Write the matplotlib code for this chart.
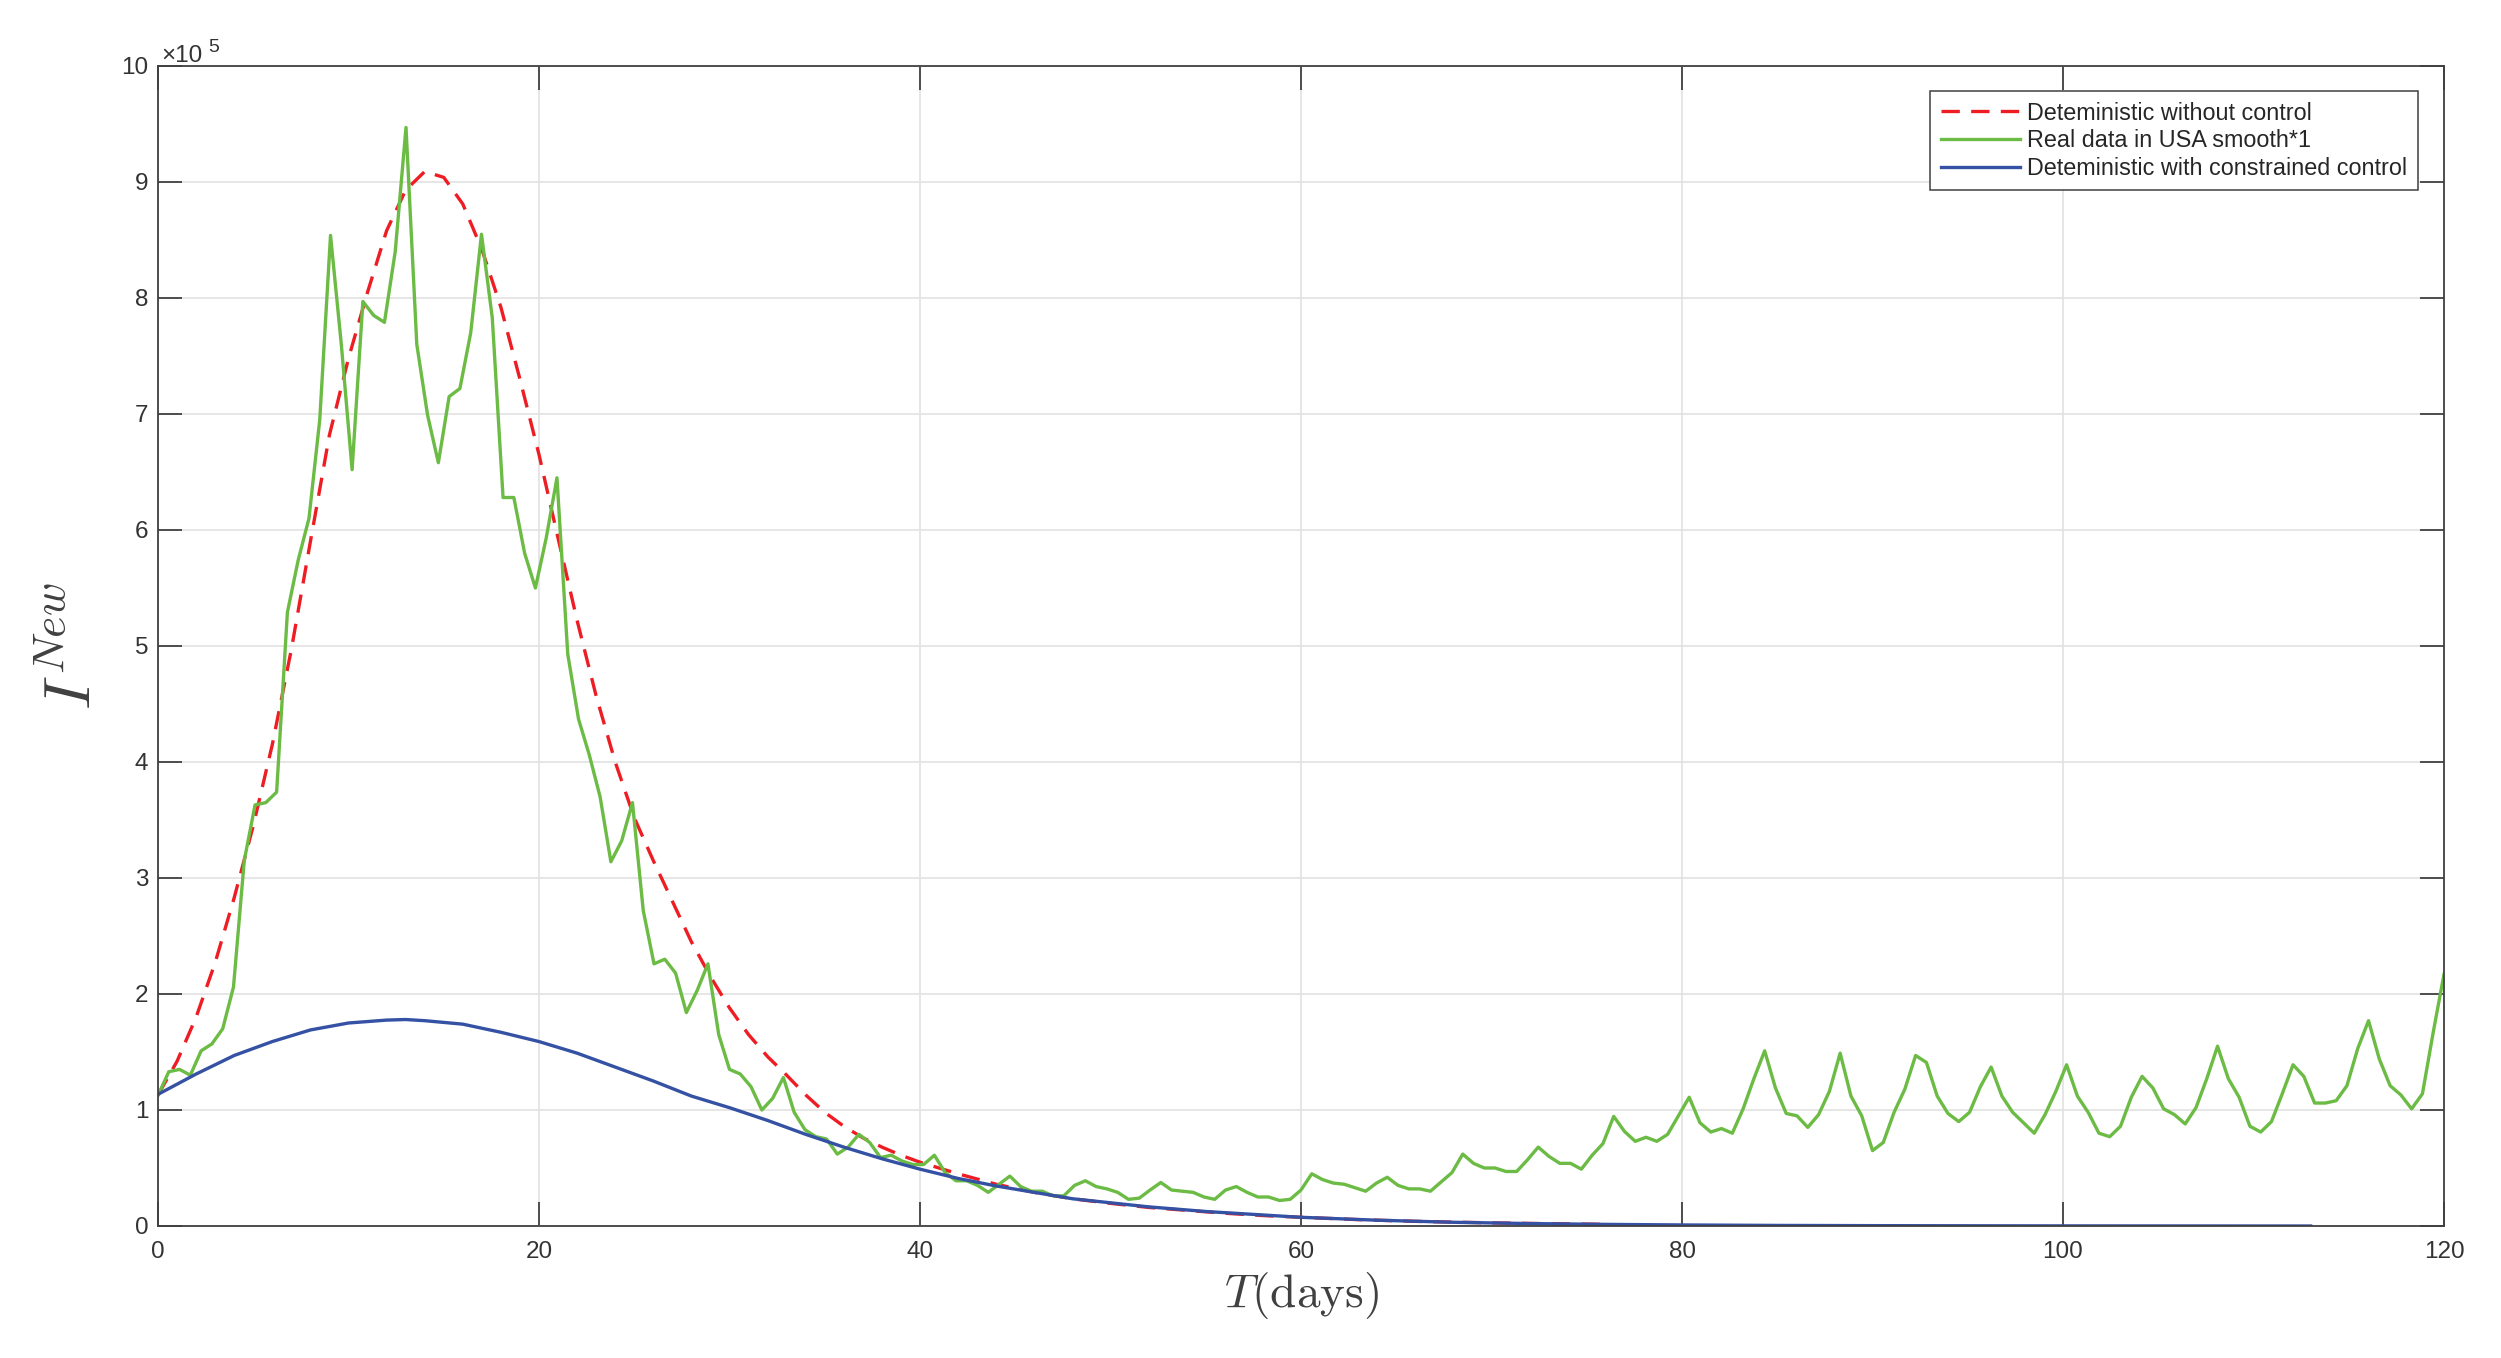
import numpy as np
import matplotlib
matplotlib.use("Agg")
import matplotlib.pyplot as plt

# values in units of 1e5
t_red = [0, 1, 2, 3, 4, 5, 6, 7, 8, 9, 10, 11, 12, 13, 14, 15, 16, 17, 18, 19,
         20, 21, 22, 23, 24, 25, 26, 27, 28, 29, 30, 31, 32, 33, 34, 35, 36, 37,
         38, 39, 40, 42, 44, 46, 48, 50, 52, 54, 56, 58, 60, 63, 66, 70, 73, 76]
i_red = [1.13, 1.42, 1.80, 2.27, 2.83, 3.45, 4.15, 4.97, 5.90, 6.82, 7.48, 8.05,
         8.58, 8.93, 9.09, 9.04, 8.81, 8.42, 7.92, 7.30, 6.65, 5.93, 5.22, 4.57,
         4.00, 3.52, 3.15, 2.80, 2.45, 2.15, 1.88, 1.65, 1.46, 1.30, 1.13, 0.98,
         0.86, 0.76, 0.68, 0.61, 0.55, 0.45, 0.36, 0.29, 0.235, 0.195, 0.16,
         0.135, 0.11, 0.09, 0.075, 0.055, 0.04, 0.027, 0.02, 0.014]

t_blue = [0, 2, 4, 6, 8, 10, 12, 13, 14, 16, 18, 20, 22, 24, 26, 28, 30, 32, 34,
          36, 38, 40, 42, 44, 46, 48, 50, 52, 55, 58, 60, 64, 68, 72, 76, 80, 85,
          90, 100, 113]
i_blue = [1.135, 1.31, 1.47, 1.59, 1.69, 1.75, 1.775, 1.78, 1.77, 1.74, 1.67,
          1.59, 1.49, 1.37, 1.25, 1.12, 1.02, 0.91, 0.79, 0.68, 0.58, 0.49, 0.41,
          0.345, 0.29, 0.235, 0.20, 0.165, 0.125, 0.095, 0.075, 0.05, 0.032,
          0.021, 0.014, 0.009, 0.005, 0.003, 0.001, 0.0]

# real data (smoothed), equally spaced over 0..120
i_real = [1.125, 1.33, 1.35, 1.30, 1.51, 1.57, 1.70, 2.06, 3.15, 3.63,
          3.65, 3.74, 5.29, 5.74, 6.10, 6.95, 8.54, 7.60, 6.52, 7.97,
          7.85, 7.79, 8.40, 9.47, 7.60, 6.99, 6.58, 7.15, 7.22, 7.70,
          8.55, 7.83, 6.28, 6.28, 5.80, 5.50, 5.93, 6.45, 4.93, 4.37,
          4.06, 3.70, 3.14, 3.32, 3.65, 2.72, 2.26, 2.30, 2.18, 1.84,
          2.03, 2.26, 1.65, 1.35, 1.31, 1.20, 1.00, 1.10, 1.28, 0.98,
          0.83, 0.77, 0.75, 0.62, 0.68, 0.79, 0.72, 0.59, 0.61, 0.56,
          0.53, 0.53, 0.61, 0.46, 0.39, 0.39, 0.35, 0.29, 0.36, 0.43,
          0.34, 0.30, 0.30, 0.26, 0.26, 0.35, 0.39, 0.34, 0.32, 0.29,
          0.23, 0.24, 0.31, 0.375, 0.31, 0.30, 0.29, 0.25, 0.23, 0.31,
          0.34, 0.29, 0.25, 0.25, 0.22, 0.23, 0.31, 0.45, 0.40, 0.37,
          0.36, 0.33, 0.30, 0.37, 0.42, 0.35, 0.32, 0.32, 0.30, 0.38,
          0.46, 0.62, 0.54, 0.50, 0.50, 0.47, 0.47, 0.57, 0.68, 0.60,
          0.54, 0.54, 0.49, 0.61, 0.71, 0.945, 0.815, 0.73, 0.765, 0.73,
          0.79, 0.95, 1.11, 0.89, 0.81, 0.84, 0.80, 1.01, 1.27, 1.51,
          1.19, 0.97, 0.95, 0.85, 0.96, 1.16, 1.49, 1.12, 0.95, 0.65,
          0.72, 0.98, 1.18, 1.47, 1.41, 1.12, 0.97, 0.90, 0.98, 1.20,
          1.37, 1.12, 0.98, 0.89, 0.80, 0.96, 1.16, 1.39, 1.12, 0.98,
          0.80, 0.77, 0.86, 1.11, 1.29, 1.19, 1.01, 0.96, 0.88, 1.02,
          1.27, 1.55, 1.27, 1.11, 0.86, 0.81, 0.90, 1.14, 1.39, 1.29,
          1.06, 1.06, 1.08, 1.21, 1.53, 1.77, 1.44, 1.21, 1.13, 1.01,
          1.14, 1.67, 2.17]
t_real = np.linspace(0, 120, len(i_real))

labels = ["Deteministic without control", "Real data in USA smooth*1",
          "Deteministic with constrained control"]

plt.rcParams['mathtext.fontset'] = 'cm'
plt.rcParams['font.family'] = ['Liberation Sans', 'DejaVu Sans']

axcol = '#404040'
fig = plt.figure(figsize=(25.01, 13.58), dpi=100)
ax = fig.add_axes([158 / 2501, 1 - 1226 / 1358, (2444 - 158) / 2501, (1226 - 66) / 1358])

ax.plot(t_red, i_red, color='#EE1D23', lw=2.4, dashes=(5.5, 3.4), label=labels[0])
ax.plot(t_real, i_real, color='#6BBB44', lw=2.4, label=labels[1])
ax.plot(t_blue, i_blue, color='#3451A3', lw=2.4, label=labels[2])

ax.set_xlim(0, 120)
ax.set_ylim(0, 10)
ax.set_xticks(np.arange(0, 121, 20))
ax.set_yticks(np.arange(0, 11, 1))
ax.set_axisbelow(True)
ax.grid(True, color='#e2e2e2', lw=1.2)
for s in ax.spines.values():
    s.set_color(axcol)
    s.set_linewidth(1.3)
ax.tick_params(direction='in', length=17, width=1.3, color=axcol,
               labelsize=17.5, labelcolor='#333333',
               top=True, right=True)
ax.tick_params(axis='x', pad=11)
ax.tick_params(axis='y', pad=7)

# offset text like matlab
ax.text(0.0015, 1.0034, '\u00d710', transform=ax.transAxes, fontsize=17.5,
        color='#333333', va='baseline', ha='left')
ax.text(0.0218, 1.0125, '5', transform=ax.transAxes, fontsize=14,
        color='#333333', va='baseline', ha='left')

ax.set_xlabel(r'$T(\mathrm{days})$', fontsize=34, color=axcol, labelpad=5)
ax.set_ylabel(r'$I^{New}$', fontsize=47, color=axcol, labelpad=12)

leg = ax.legend(loc='upper right', bbox_to_anchor=(0.9886, 0.9784),
                borderaxespad=0, fontsize=16.8, handlelength=3.4,
                handletextpad=0.3, borderpad=0.45, labelspacing=0.2,
                fancybox=False, framealpha=1)
leg.get_frame().set_edgecolor(axcol)
leg.get_frame().set_linewidth(1.1)
for txt in leg.get_texts():
    txt.set_color('#262626')

fig.savefig('out.png', dpi=100)
